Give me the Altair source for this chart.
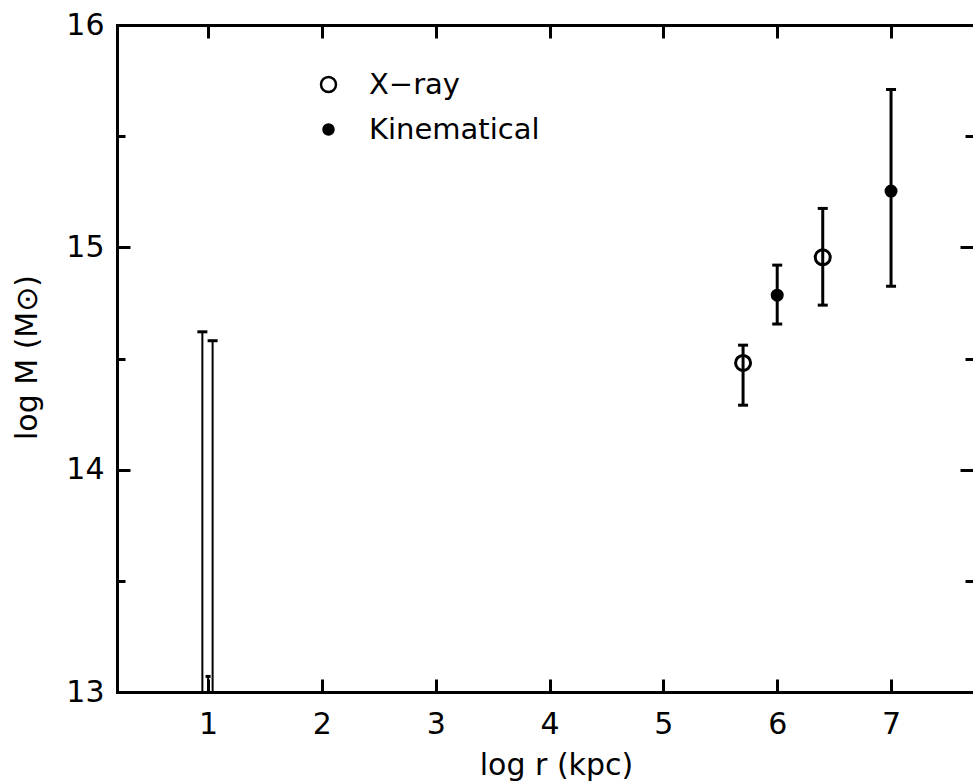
import altair as alt
import pandas as pd

# ---- tick values / labels ----
x_label_values = [1, 2, 3, 4, 5, 6, 7]
y_label_values = [13, 14, 15, 16]
y_minor_values = [13.5, 14.5, 15.5]

series_names = ["X\u2212ray", "Kinematical"]

# ---- X-ray estimates ----
xray_x = [5.7, 6.4]
xray_y = [14.48, 14.955]
xray_lo = [14.29, 14.74]
xray_hi = [14.56, 15.175]

# ---- Kinematical estimates ----
kin_x = [6.0, 7.0]
kin_y = [14.785, 15.253]
kin_lo = [14.655, 14.825]
kin_hi = [14.92, 15.71]

# ---- bars near log r = 1 (centres below the frame) ----
lim_x = [0.95, 1.0, 1.04]
lim_hi = [14.62, 13.07, 14.58]
lim_lo = [12.0, 12.0, 12.0]
lim_cap = [10, 5, 10]

X_DOMAIN = [0.2, 7.72]
Y_DOMAIN = [13, 16]
FONT = "DejaVu Sans"

pts = pd.DataFrame({
    "x": xray_x + kin_x,
    "y": xray_y + kin_y,
    "lo": xray_lo + kin_lo,
    "hi": xray_hi + kin_hi,
    "type": [series_names[0]] * len(xray_x) + [series_names[1]] * len(kin_x),
})
caps_main = pd.concat([
    pd.DataFrame({"x": pts["x"], "y": pts["lo"]}),
    pd.DataFrame({"x": pts["x"], "y": pts["hi"]}),
], ignore_index=True)
lim = pd.DataFrame({"x": lim_x, "lo": lim_lo, "hi": lim_hi, "cap": lim_cap})

xs = alt.Scale(domain=X_DOMAIN, nice=False, zero=False)
ys = alt.Scale(domain=Y_DOMAIN, nice=False, zero=False)


def axis(**kw):
    base = dict(grid=False, labelFont=FONT, titleFont=FONT, labelColor="black",
                titleColor="black", tickColor="black", domainColor="black",
                labelFlush=False, titleFontWeight="normal")
    base.update(kw)
    return alt.Axis(**base)


ax_x_bottom = axis(orient="bottom", values=x_label_values, offset=-13, tickSize=13,
                   tickWidth=3, domain=False, labelFontSize=30, labelPadding=17,
                   title="log r (kpc)", titleFontSize=30, titleX=439, titleY=95,
                   titleBaseline="alphabetic", titleAlign="center")
ax_y_left = axis(orient="left", values=y_label_values, offset=-13, tickSize=13,
                 tickWidth=3, domain=False, labelFontSize=30, labelPadding=13,
                 title="log M (M\u2299)", titleFontSize=30, titleAngle=270,
                 titleX=-94, titleY=332, titleBaseline="alphabetic", titleAlign="center")
ax_x_top_ticks = axis(orient="top", values=x_label_values, offset=-13, tickSize=13,
                      tickWidth=3, domain=False, labels=False, title=None)
ax_y_right_ticks = axis(orient="right", values=y_label_values, offset=-13, tickSize=13,
                        tickWidth=3, domain=False, labels=False, title=None)
ax_x_frame_bottom = axis(orient="bottom", ticks=False, labels=False, domainWidth=3,
                         domainCap="square", title=None)
ax_y_frame_left = axis(orient="left", ticks=False, labels=False, domainWidth=3,
                       domainCap="square", title=None)
ax_x_frame_top = axis(orient="top", ticks=False, labels=False, domainWidth=3,
                      domainCap="square", title=None)
ax_y_minor_left = axis(orient="left", values=y_minor_values, offset=-8, tickSize=8,
                       tickWidth=3, domain=False, labels=False, title=None)
ax_y_minor_right = axis(orient="right", values=y_minor_values, offset=-8, tickSize=8,
                        tickWidth=3, domain=False, labels=False, title=None)

leg = alt.Legend(orient="none", legendX=197, legendY=45, title=None, labelFont=FONT,
                 labelFontSize=29, labelColor="black", labelOffset=26, rowPadding=15,
                 padding=0, labelLimit=0, symbolStrokeColor="black",
                 symbolStrokeWidth=2.5, symbolType="circle")

bars = alt.Chart(pts).mark_rule(color="black", strokeWidth=3).encode(
    x=alt.X("x:Q", scale=xs, axis=ax_x_bottom),
    y=alt.Y("lo:Q", scale=ys, axis=ax_y_left),
    y2="hi:Q",
)

caps = alt.Chart(caps_main).mark_tick(color="black", orient="horizontal", size=10,
                                      thickness=3, opacity=1).encode(
    x=alt.X("x:Q", scale=xs, axis=ax_x_top_ticks),
    y=alt.Y("y:Q", scale=ys, axis=ax_y_right_ticks),
)

points = alt.Chart(pts).mark_point(shape="circle", filled=True, strokeWidth=3,
                                   opacity=1).encode(
    x=alt.X("x:Q", scale=xs, axis=ax_x_frame_bottom),
    y=alt.Y("y:Q", scale=ys, axis=ax_y_frame_left),
    fill=alt.Fill("type:O", scale=alt.Scale(domain=series_names,
                                             range=["transparent", "black"]), legend=leg),
    stroke=alt.Stroke("type:O", scale=alt.Scale(domain=series_names,
                                                 range=["black", "black"]), legend=leg),
    size=alt.Size("type:O", scale=alt.Scale(domain=series_names, range=[225, 100]),
                  legend=leg),
)

lim_bars = alt.Chart(lim).mark_rule(color="black", strokeWidth=2, clip=True).encode(
    x=alt.X("x:Q", scale=xs, axis=ax_x_frame_top),
    y=alt.Y("lo:Q", scale=ys, axis=ax_y_minor_left),
    y2="hi:Q",
)

lim_caps = alt.Chart(lim).mark_tick(color="black", orient="horizontal", thickness=3,
                                    opacity=1, clip=True).encode(
    x=alt.X("x:Q", scale=xs, axis=None),
    y=alt.Y("hi:Q", scale=ys, axis=ax_y_minor_right),
    size=alt.Size("cap:Q", scale=None),
)

chart = alt.layer(bars, caps, points, lim_bars, lim_caps).resolve_axis(
    x="independent", y="independent"
).properties(
    width=856, height=667,
    autosize=alt.AutoSizeParams(type="none"),
    padding={"left": 117, "top": 25, "right": 0, "bottom": 91},
    background="white",
).configure_view(stroke=None)

chart.save("out.html", embed_options={"renderer": "svg", "actions": False})
